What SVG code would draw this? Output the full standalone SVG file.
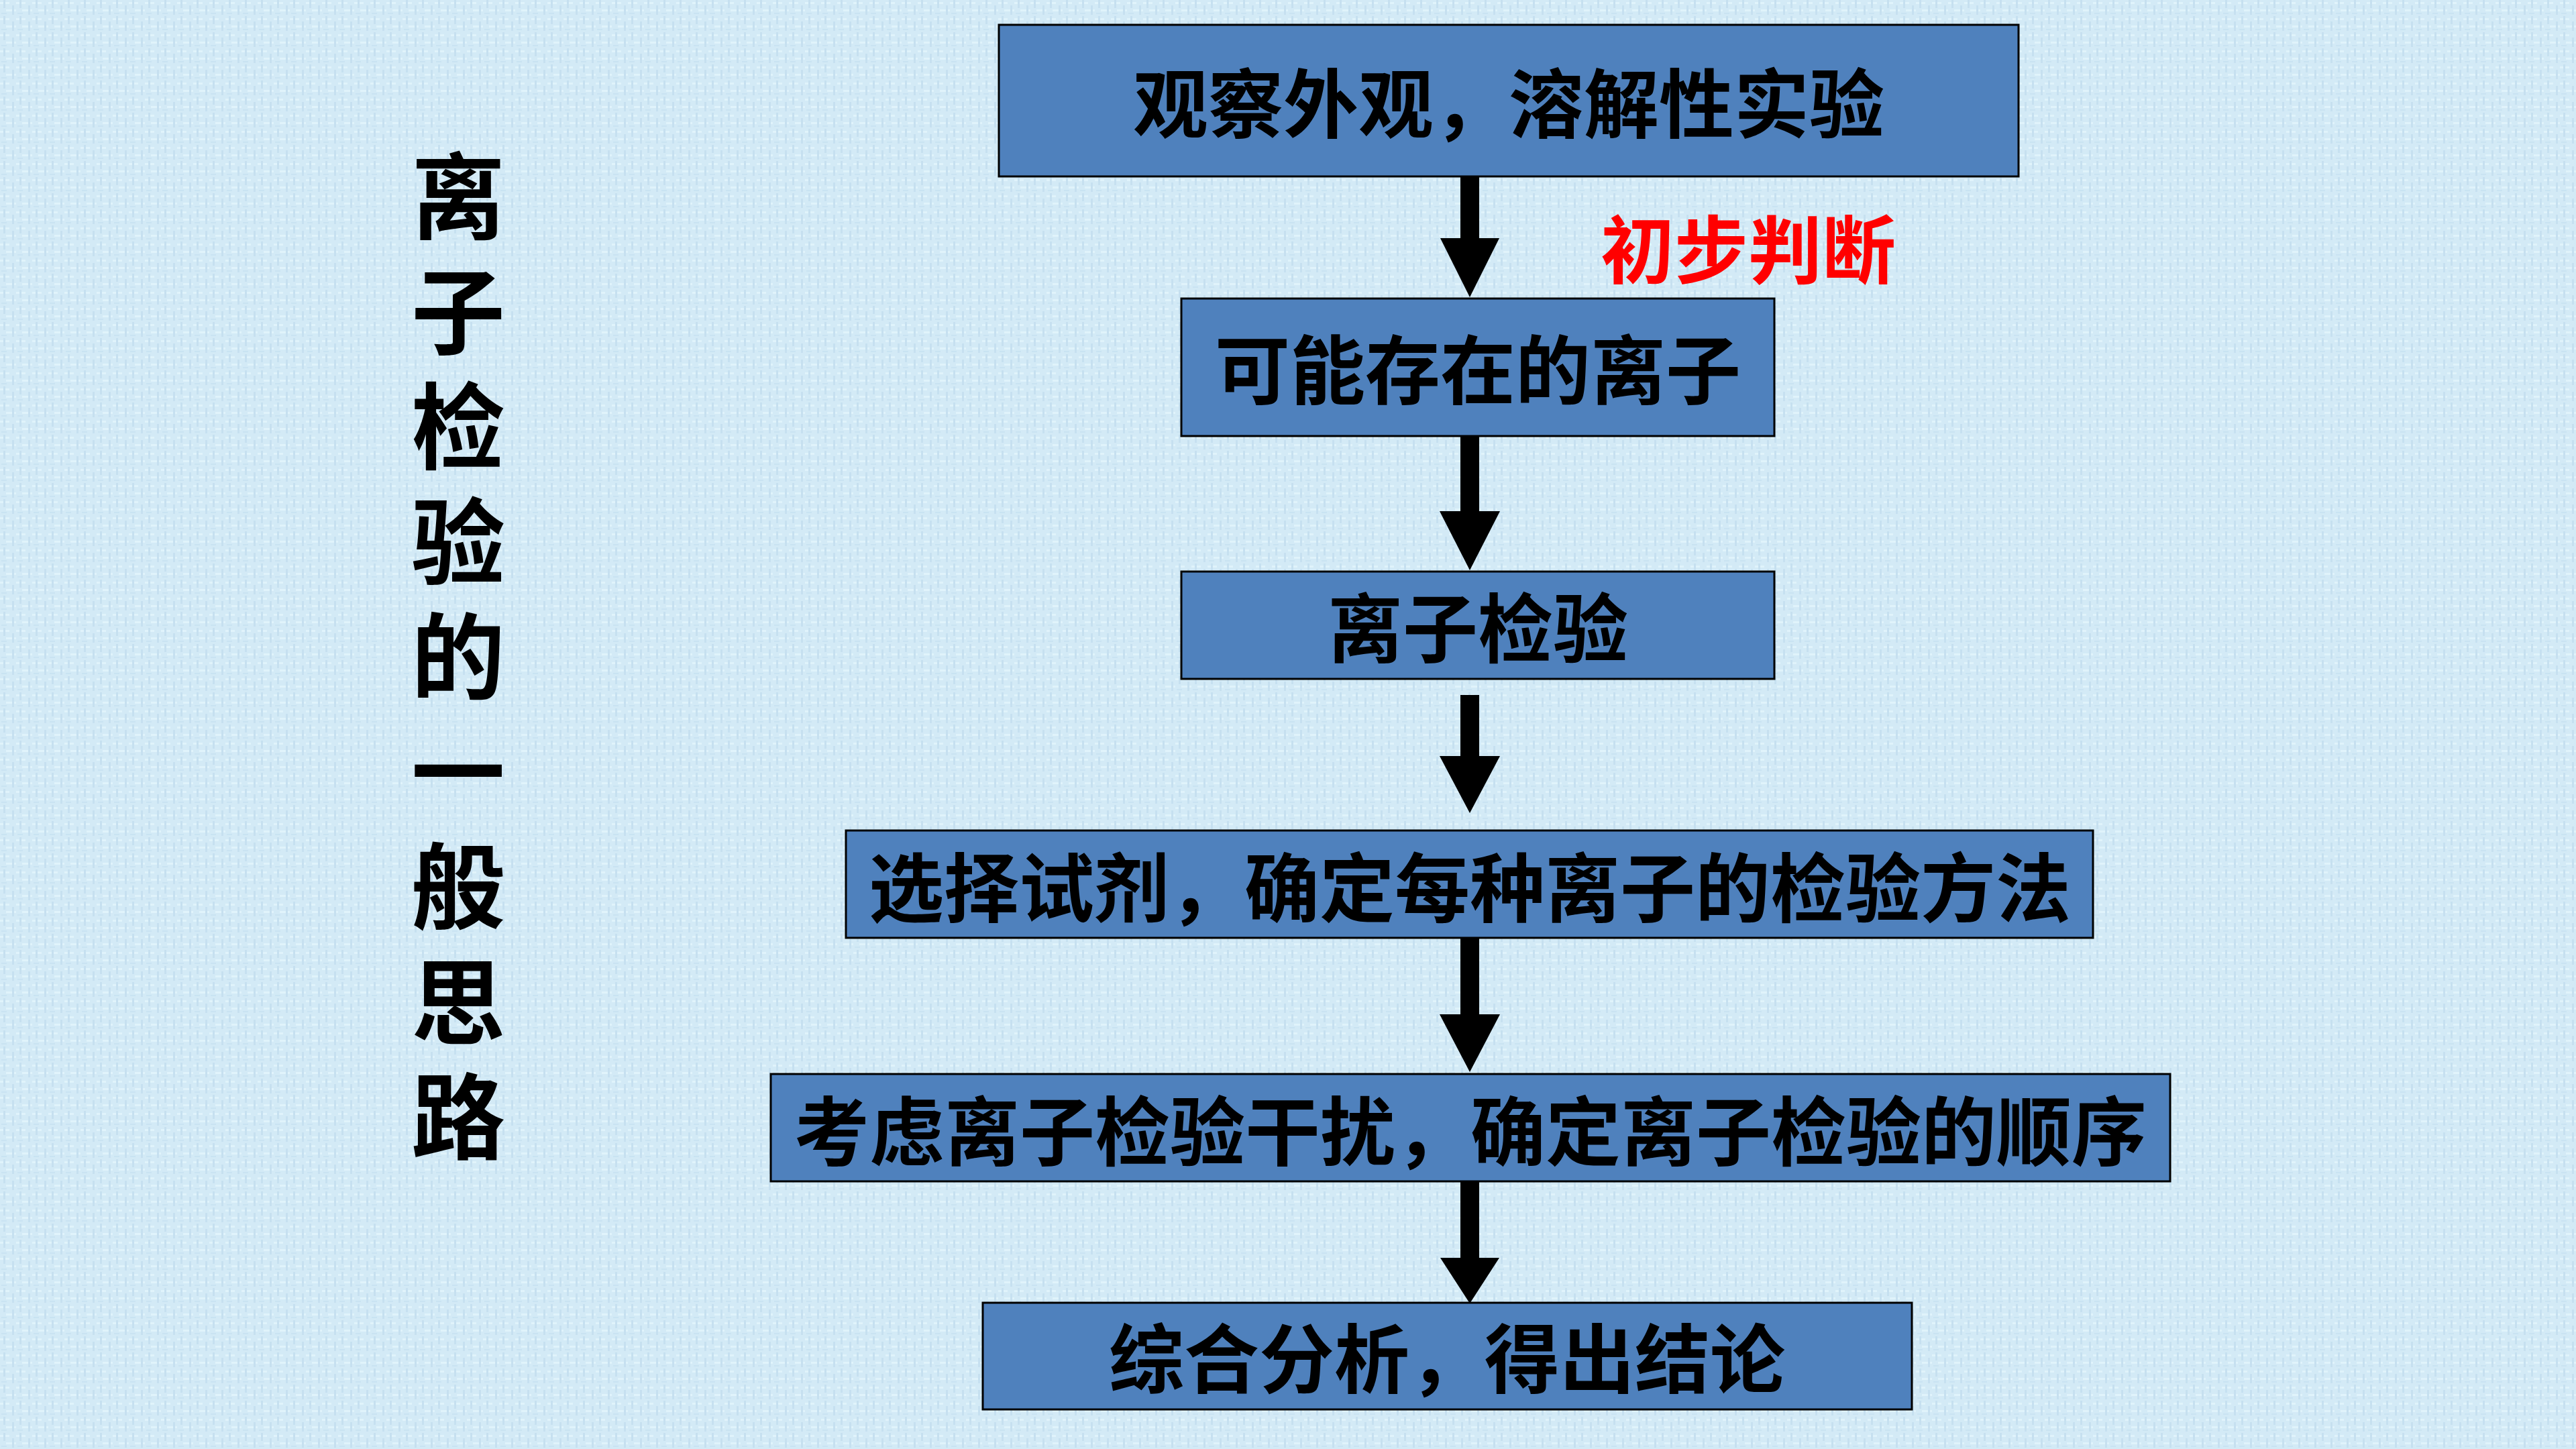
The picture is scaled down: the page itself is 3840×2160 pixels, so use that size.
<svg xmlns="http://www.w3.org/2000/svg" width="3840" height="2160" viewBox="0 0 3840 2160">
<defs>
<pattern id="tex" width="24" height="24" patternUnits="userSpaceOnUse">
<rect width="24" height="24" fill="#D3EAF6"/>
<rect x="0" y="3" width="14" height="3" fill="#E0F3FB"/>
<rect x="9" y="14" width="15" height="3" fill="#E0F3FB"/>
<rect x="5" y="0" width="3" height="12" fill="#C6E0F0"/>
<rect x="18" y="8" width="3" height="14" fill="#C6E0F0"/>
<rect x="2" y="19" width="8" height="2" fill="#C9E3F2"/>
</pattern>
<style>
.box{fill:#4F81BD;stroke:#000;stroke-width:3}
.lbl{font-family:"Noto Sans CJK SC","Noto Sans",sans-serif;font-weight:700;font-size:112px;fill:#000;text-anchor:middle;dominant-baseline:central}
.side{font-family:"Noto Sans CJK SC","Noto Sans",sans-serif;font-weight:700;font-size:140px;fill:#000;writing-mode:vertical-rl;text-orientation:upright;letter-spacing:31.5px}
.red{font-family:"Noto Sans CJK SC","Noto Sans",sans-serif;font-weight:700;font-size:110px;fill:#FF0000;text-anchor:middle;dominant-baseline:central}
.arr{fill:#000}
</style>
</defs>
<rect width="3840" height="2160" fill="url(#tex)"/>

<g id="title">
<text class="side" x="683" y="222">离子检验的一般思路</text>
</g>

<g id="connectors">
<path class="arr" d="M2177,263 H2205 V355 H2235 L2191,443 L2147,355 H2177 Z"/>
<path class="arr" d="M2177,650 H2205 V762 H2236 L2191,850 L2146,762 H2177 Z"/>
<path class="arr" d="M2177,1036 H2205 V1127 H2236 L2191,1212 L2146,1127 H2177 Z"/>
<path class="arr" d="M2177,1398 H2205 V1512 H2236 L2191,1598 L2146,1512 H2177 Z"/>
<path class="arr" d="M2177,1761 H2205 V1875 H2235 L2191,1943 L2147,1875 H2177 Z"/>
<text id="label-preliminary" class="red" x="2606" y="366">初步判断</text>
</g>

<g id="n1">
<rect class="box" x="1489" y="37" width="1520" height="226"/>
<text class="lbl" x="2249" y="148">观察外观，溶解性实验</text>
</g>
<g id="n2">
<rect class="box" x="1761" y="445" width="884" height="205"/>
<text class="lbl" x="2203" y="545">可能存在的离子</text>
</g>
<g id="n3">
<rect class="box" x="1761" y="852" width="884" height="160"/>
<text class="lbl" x="2203" y="930">离子检验</text>
</g>
<g id="n4">
<rect class="box" x="1261" y="1238" width="1859" height="160"/>
<text class="lbl" x="2191" y="1317">选择试剂，确定每种离子的检验方法</text>
</g>
<g id="n5">
<rect class="box" x="1149" y="1601" width="2086" height="160"/>
<text class="lbl" x="2192" y="1680">考虑离子检验干扰，确定离子检验的顺序</text>
</g>
<g id="n6">
<rect class="box" x="1465" y="1942" width="1385" height="159"/>
<text class="lbl" x="2157" y="2019">综合分析，得出结论</text>
</g>
</svg>
